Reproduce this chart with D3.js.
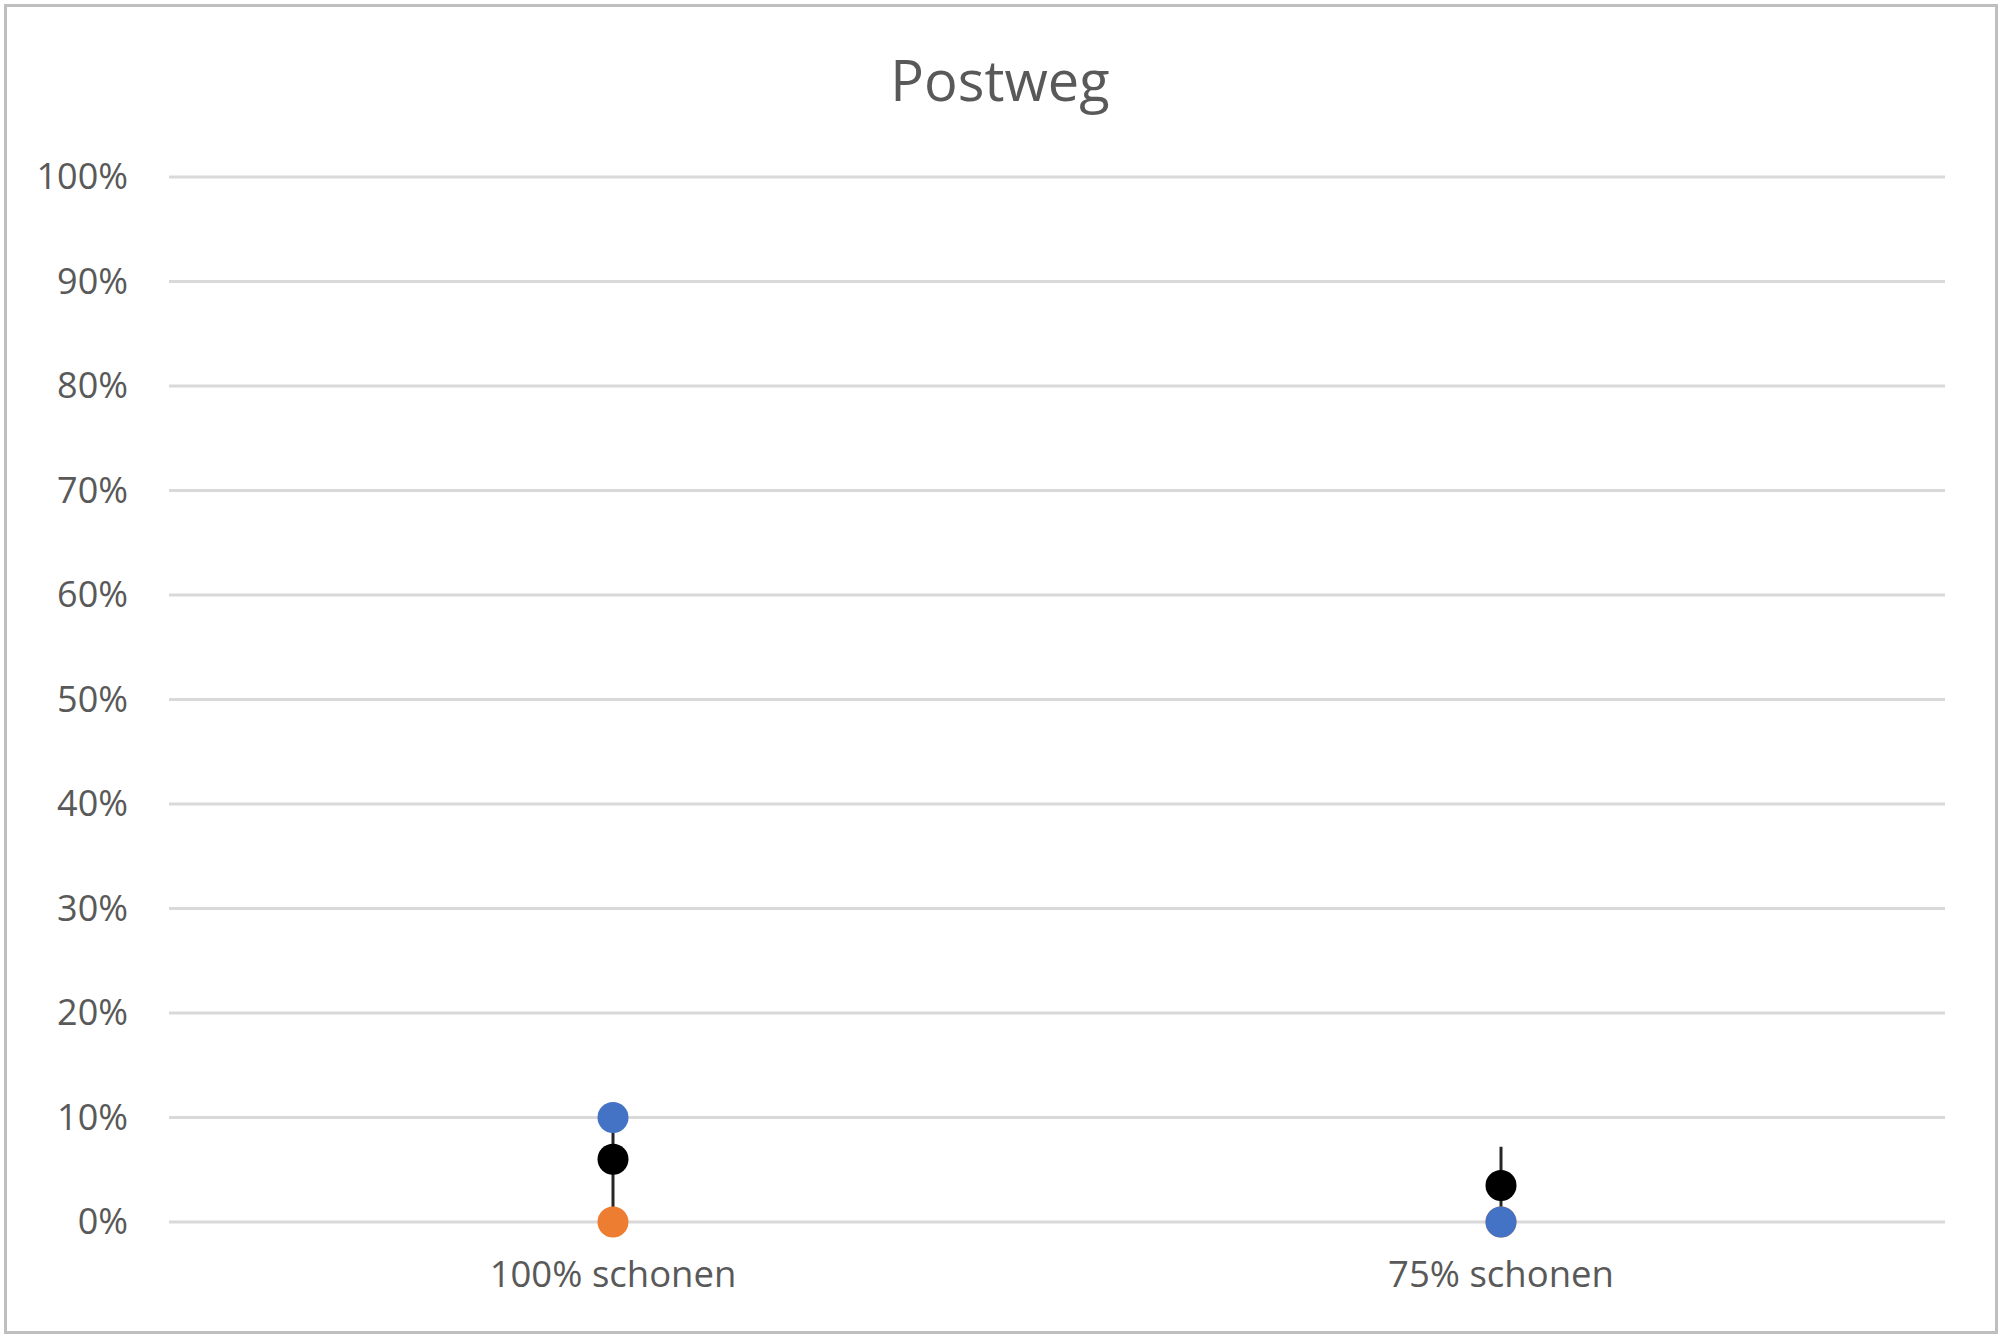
<!DOCTYPE html>
<html>
<head>
<meta charset="utf-8">
<script src="https://cdn.jsdelivr.net/npm/d3@7"></script>
<style>
  html, body { margin: 0; padding: 0; background: #fff; }
  svg text { font-family: "Open Sans", sans-serif; fill: #595959; }
</style>
</head>
<body>
<div id="chart"></div>
<script>
// data (percent)
var categories = ["100% schonen", "75% schonen"];
var orangeValues = [0, 0];
var blueValues = [10, 0];
var meanValues = [6, 3.5];
var rangeLow = [0, 0];
var rangeHigh = [10, 7.2];
var yTicks = [0, 10, 20, 30, 40, 50, 60, 70, 80, 90, 100];
var chartTitle = "Postweg";

var width = 2000;
var height = 1336;
var margin = { top: 177, right: 55, bottom: 114, left: 169 };

var svg = d3.select("#chart")
  .append("svg")
  .attr("width", width)
  .attr("height", height);

// outer frame
svg.append("rect")
  .attr("x", 5.5).attr("y", 5.5)
  .attr("width", width - 9).attr("height", height - 9)
  .attr("fill", "#fff")
  .attr("stroke", "#bfbfbf")
  .attr("stroke-width", 3);

var x = d3.scaleBand()
  .domain(categories)
  .range([margin.left, width - margin.right]);

var y = d3.scaleLinear()
  .domain([0, 100])
  .range([height - margin.bottom, margin.top]);

// title
svg.append("text")
  .attr("x", width / 2)
  .attr("y", 101)
  .attr("text-anchor", "middle")
  .style("font-size", "56px")
  .text(chartTitle);

// grid lines
svg.append("g")
  .selectAll("line")
  .data(yTicks)
  .enter().append("line")
  .attr("x1", margin.left)
  .attr("x2", width - margin.right)
  .attr("y1", function (d) { return y(d); })
  .attr("y2", function (d) { return y(d); })
  .attr("stroke", "#d9d9d9")
  .attr("stroke-width", 3);

// y axis labels
var yAxis = d3.axisLeft(y)
  .tickValues(yTicks)
  .tickSize(0)
  .tickPadding(41)
  .tickFormat(function (d) { return d + "%"; });

var gy = svg.append("g")
  .attr("transform", "translate(" + margin.left + ",0)")
  .call(yAxis);
gy.select(".domain").remove();
gy.selectAll("text")
  .attr("dy", "0.32em")
  .style("font-size", "36px")
  .style("font-family", "Open Sans, sans-serif")
  .attr("fill", "#595959");

// x axis labels
var xAxis = d3.axisBottom(x).tickSize(0).tickPadding(0);
var gx = svg.append("g")
  .attr("transform", "translate(0," + (height - margin.bottom) + ")")
  .call(xAxis);
gx.select(".domain").remove();
gx.selectAll("text")
  .attr("y", 65)
  .attr("dy", 0)
  .style("font-size", "36.5px")
  .style("font-family", "Open Sans, sans-serif")
  .attr("fill", "#595959");

function cx(i) { return x(categories[i]) + x.bandwidth() / 2; }

// range lines
svg.append("g")
  .selectAll("line")
  .data(categories)
  .enter().append("line")
  .attr("x1", function (d, i) { return cx(i); })
  .attr("x2", function (d, i) { return cx(i); })
  .attr("y1", function (d, i) { return y(rangeLow[i]); })
  .attr("y2", function (d, i) { return y(rangeHigh[i]); })
  .attr("stroke", "#262626")
  .attr("stroke-width", 3);

function drawDots(values, color) {
  svg.append("g")
    .selectAll("circle")
    .data(values)
    .enter().append("circle")
    .attr("cx", function (d, i) { return cx(i); })
    .attr("cy", function (d) { return y(d); })
    .attr("r", 15.5)
    .attr("fill", color);
}

drawDots(orangeValues, "#ed7d31");
drawDots(blueValues, "#4472c4");
drawDots(meanValues, "#000000");
</script>
</body>
</html>
